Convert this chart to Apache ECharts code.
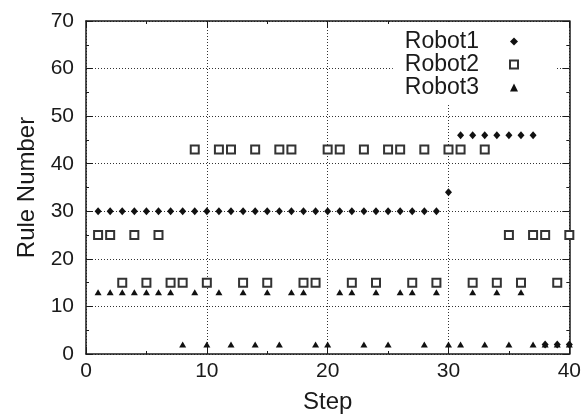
<!DOCTYPE html>
<html>
<head>
<meta charset="utf-8">
<script src="https://cdn.jsdelivr.net/npm/echarts@6/dist/echarts.min.js"></script>
<style>
  html, body { margin: 0; padding: 0; background: #fff; }
  #chart { width: 584px; height: 419px; }
</style>
</head>
<body>
<div id="chart"></div>
<script>
// Step numbers and the rule chosen by each robot at that step
const steps = [1,2,3,4,5,6,7,8,9,10,11,12,13,14,15,16,17,18,19,20,
               21,22,23,24,25,26,27,28,29,30,31,32,33,34,35,36,37,38,39,40];
const robot1 = [30,30,30,30,30,30,30,30,30,30,30,30,30,30,30,30,30,30,30,30,
                30,30,30,30,30,30,30,30,30,34,46,46,46,46,46,46,46,2,2,2];
const robot2 = [25,25,15,25,15,25,15,15,43,15,43,43,15,43,15,43,43,15,15,43,
                43,15,43,15,43,43,15,43,15,43,43,15,43,15,25,15,25,25,15,25];
const robot3 = [13,13,13,13,13,13,13,2,13,2,13,2,13,2,13,2,13,13,2,2,
                13,13,2,13,2,13,13,2,13,2,2,13,2,13,2,13,2,2,2,2];
const seriesNames = ['Robot1', 'Robot2', 'Robot3'];
const xTicks = [0, 10, 20, 30, 40];
const yTicks = [0, 10, 20, 30, 40, 50, 60, 70];

const FONT = '"Liberation Sans", Arial, Helvetica, sans-serif';
const INK = '#1a1a1a';

const pairs = (vals) => steps.map((s, i) => [s, vals[i]]);

const gridLine = { show: true, lineStyle: { color: '#333', width: 1, type: [1, 2] } };

function frameAxis(base, extra) {
  return Object.assign({
    type: 'value',
    axisLine: { show: true, onZero: false, lineStyle: { color: INK, width: 1.5 } },
    axisTick: { show: true, inside: true, length: 7, lineStyle: { color: INK, width: 1 } },
    minorTick: { show: true, splitNumber: 2, length: 3, lineStyle: { color: INK, width: 1 } },
    splitLine: { show: false },
    axisLabel: { show: false }
  }, base, extra);
}

const xRange = { min: xTicks[0], max: xTicks[xTicks.length - 1], interval: 10 };
const yRange = { min: yTicks[0], max: yTicks[yTicks.length - 1], interval: 10 };

const chart = echarts.init(document.getElementById('chart'), null, { renderer: 'canvas' });
chart.setOption({
  animation: false,
  backgroundColor: '#fff',
  textStyle: { fontFamily: FONT, color: INK },
  grid: { left: 86, right: 12, top: 21, bottom: 65, containLabel: false },
  xAxis: [
    frameAxis(xRange, {
      position: 'bottom',
      name: 'Step',
      nameLocation: 'middle',
      nameGap: 36,
      nameTextStyle: { fontSize: 24, color: INK, fontFamily: FONT },
      splitLine: gridLine,
      axisLabel: { show: true, fontSize: 21, color: INK, margin: 7, fontFamily: FONT }
    }),
    frameAxis(xRange, { position: 'top' })
  ],
  yAxis: [
    frameAxis(yRange, {
      position: 'left',
      name: 'Rule Number',
      nameLocation: 'middle',
      nameGap: 46,
      nameTextStyle: { fontSize: 24, color: INK, fontFamily: FONT },
      splitLine: gridLine,
      axisLabel: { show: true, fontSize: 21, color: INK, margin: 12, fontFamily: FONT }
    }),
    frameAxis(yRange, { position: 'right' })
  ],
  legend: {
    show: true,
    orient: 'vertical',
    align: 'right',
    right: 28,
    top: 22,
    padding: [8, 37, 6, 12],
    backgroundColor: '#fff',
    itemGap: 0,
    itemWidth: 8,
    itemHeight: 8,
    data: seriesNames,
    textStyle: { fontSize: 23, color: INK, fontFamily: FONT, lineHeight: 21, padding: [0, 26, 0, 0] }
  },
  series: [
    {
      name: seriesNames[0],
      type: 'scatter',
      symbol: 'diamond',
      symbolSize: [7, 8],
      clip: false,
      itemStyle: { color: '#111', opacity: 1 },
      z: 4,
      data: pairs(robot1)
    },
    {
      name: seriesNames[1],
      type: 'scatter',
      symbol: 'emptyRect',
      symbolSize: 8,
      clip: false,
      itemStyle: { color: '#333', borderWidth: 1, opacity: 1 },
      z: 3,
      data: pairs(robot2)
    },
    {
      name: seriesNames[2],
      type: 'scatter',
      symbol: 'triangle',
      symbolSize: [7, 6],
      clip: false,
      itemStyle: { color: '#111', opacity: 1 },
      z: 3,
      data: pairs(robot3)
    }
  ]
});
</script>
</body>
</html>
